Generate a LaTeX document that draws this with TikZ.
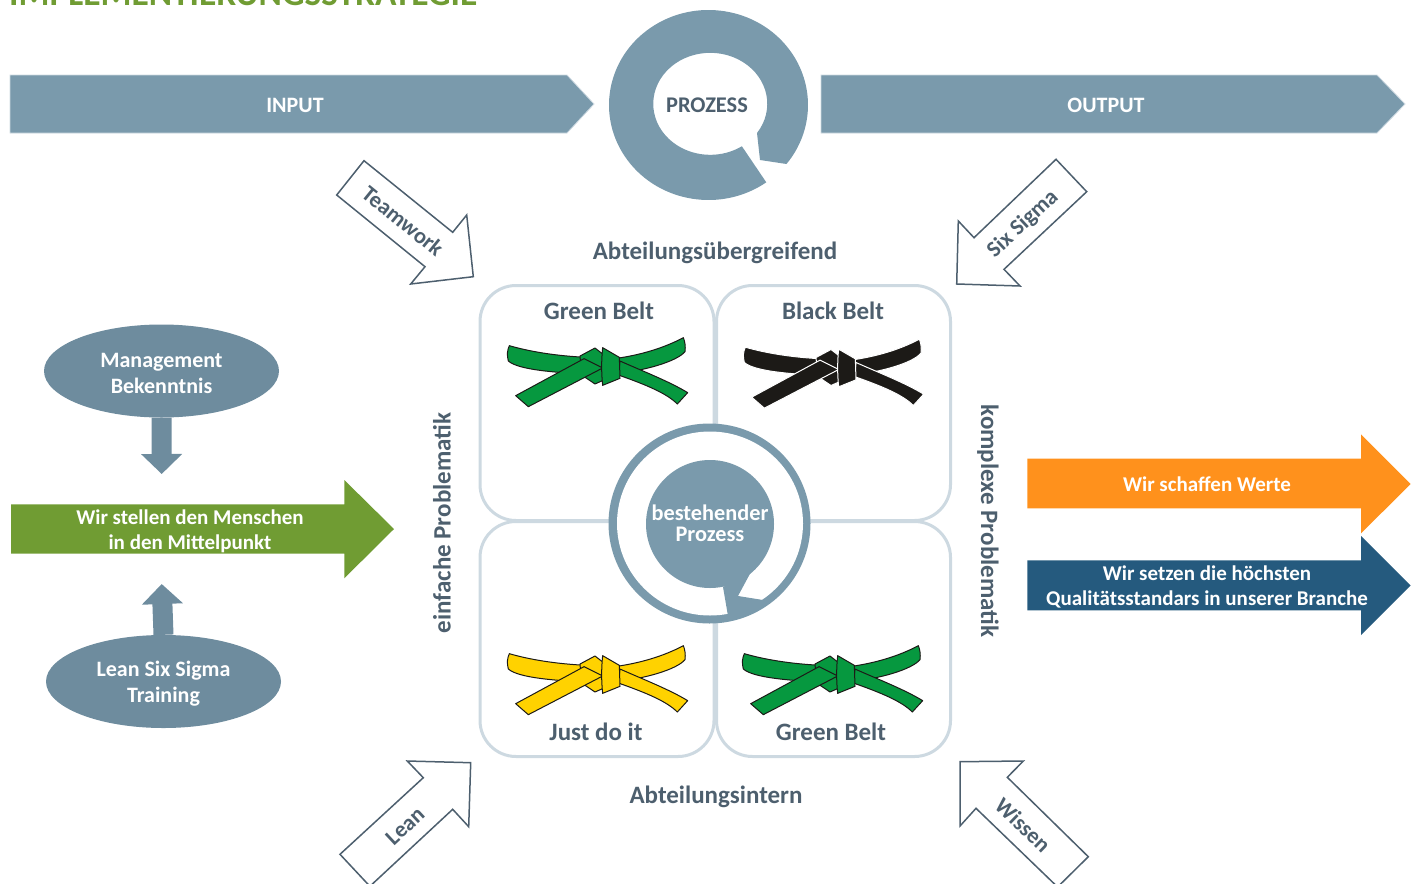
\documentclass[tikz,border=0pt]{standalone}
\usepackage{fontspec}
\setmainfont{Carlito}
\usetikzlibrary{arrows.meta, shapes.geometric, positioning}
\definecolor{steel}{HTML}{7A9AAC}
\definecolor{steeld}{HTML}{6E8C9E}
\definecolor{quadline}{HTML}{CDD9E1}
\definecolor{slate}{HTML}{4D5F6E}
\definecolor{leaf}{HTML}{709C33}
\definecolor{amber}{HTML}{FF911C}
\definecolor{navy}{HTML}{255A7E}
\definecolor{beltgreen}{HTML}{06983F}
\definecolor{beltyellow}{HTML}{FFD200}
\definecolor{beltblack}{HTML}{1C1A17}

\newcommand{\beltdraw}[4]{
    \begin{scope}[shift={(480+#1,280+#2)}, scale=1/3, fill=#3, draw=#4, line width=1pt, line join=round]
        \filldraw (88,197) .. controls (150,215) and (230,228) .. (320,232) -- (320,282) .. controls (230,278) and (115,270) .. (85,243) .. controls (80,225) and (82,210) .. cycle;
        \filldraw (610,173) .. controls (550,205) and (480,225) .. (410,235) -- (410,280) .. controls (490,273) and (590,245) .. (615,215) .. controls (617,200) and (615,185) .. cycle;
        \filldraw (420,243) .. controls (480,270) and (570,305) .. (623,338) -- (592,372) .. controls (560,340) and (500,315) .. (415,285) -- cycle;
        \filldraw (300,228) -- (345,204) -- (372,225) -- (372,300) -- (345,312) -- (305,285) -- cycle;
        \filldraw (107,347) -- (312,236) -- (368,264) -- (145,380) -- cycle;
        \filldraw (368,203) -- (418,232) -- (420,295) -- (368,316) .. controls (364,280) and (364,240) .. cycle;
    \end{scope}
}

\begin{document}
\begin{tikzpicture}[x=1pt, y=1pt, yscale=-1,
        lab/.style={font=\fontsize{25}{26}\selectfont\bfseries, text=slate, inner sep=0, align=center},
        wlab/.style={font=\fontsize{21}{25}\selectfont\bfseries, text=white, inner sep=0, align=center},
        hollow/.style={draw=slate, line width=1.5pt, fill=white, line join=miter},
        hlab/.style={font=\fontsize{22.5}{25}\selectfont\bfseries, text=slate, inner sep=0},
        band/.style={fill=steel, draw=quadline, line width=0.8pt},
        quad/.style={draw=quadline, line width=3pt, fill=white, rounded corners=36pt, minimum width=234pt, minimum height=235pt, inner sep=0},
        oval/.style={ellipse, fill=steeld, minimum width=235pt, minimum height=93pt, inner sep=0, align=center, font=\fontsize{22}{26}\selectfont\bfseries, text=white},
        blockarrow/.style={draw=steeld, line width=20pt, -{Triangle[length=20pt, width=40pt]}}]
    \clip (0,0) rectangle (1415,883);

    \node[anchor=base west, inner sep=0, text=leaf, font=\fontsize{35.4}{36}\selectfont\bfseries] (title) at (9,6) {IMPLEMENTIERUNGSSTRATEGIE};

    % top row
    \draw[band] (10,75) -- (567,75) -- (594,104) -- (567,133) -- (10,133) -- cycle;
    \draw[band] (821,75) -- (1377,75) -- (1405,104) -- (1377,133) -- (821,133) -- cycle;
    \node[wlab, font=\fontsize{22}{25}\selectfont\bfseries] (input) at (295,105.5) {INPUT};
    \node[wlab, font=\fontsize{22}{25}\selectfont\bfseries] (output) at (1106,105.5) {OUTPUT};
    \fill[steel] (708.5,105) ++(54.5:99.5 and 95) arc[start angle=54.5, end angle=398.4, x radius=99.5, y radius=95]
        -- (760,160) -- (757,133) arc[start angle=34.9, end angle=-303.7, x radius=57, y radius=51] -- cycle;
    \node[lab, font=\fontsize{22.4}{25}\selectfont\bfseries] (prozess) at (707,105.5) {PROZESS};

    % hollow arrows
    \draw[hollow] (364,160.7) -- (452.7,232.3) -- (466.7,215) -- (473.3,276.7) -- (410.7,284) -- (425,266.7) -- (336.7,195) -- cycle;
    \draw[hollow] (1056,159.3) -- (1086.7,191.7) -- (1004,269.3) -- (1020,286) -- (956.7,284) -- (958.3,221) -- (974,237.7) -- cycle;
    \draw[hollow] (340,854.3) -- (423.3,777.7) -- (407.3,761) -- (470.7,762.7) -- (468.7,826.7) -- (452.7,809.3) -- (369.9,886.3) -- cycle;
    \draw[hollow] (960,761.7) -- (1023.3,761) -- (1007.3,777.3) -- (1088.3,856.7) -- (1057.6,887) -- (976,808.3) -- (960,826) -- cycle;
    \node[hlab, rotate=-39] (teamwork) at (403,221) {Teamwork};
    \node[hlab, rotate=43] (sixsigma) at (1023,224) {Six Sigma};
    \node[hlab, rotate=43] (lean) at (405,826) {Lean};
    \node[hlab, rotate=-44] (wissen) at (1023,825) {Wissen};

    % quadrants
    \node[quad] (tl) at (597,403) {};
    \node[quad] (tr) at (833.5,403) {};
    \node[quad] (bl) at (597,639) {};
    \node[quad] (br) at (833.5,639) {};

    \beltdraw{0}{0}{beltgreen}{beltblack}
    \beltdraw{236}{1.5}{beltblack}{white}
    \beltdraw{0}{308}{beltyellow}{beltblack}
    \beltdraw{235}{308}{beltgreen}{beltblack}

    \foreach \n/\x/\y/\t in {gb1/599/311/Green Belt, bb/833/311/Black Belt, jd/596/732/Just do it, gb2/831/732/Green Belt,
        quer/715/252.5/Abteilungsübergreifend, intern/716/796.5/Abteilungsintern}
    \node[lab] (\n) at (\x,\y) {\t};

    \node[lab, rotate=90] (einfach) at (442,523) {einfache Problematik};
    \node[lab, rotate=-90] (komplex) at (988,521) {komplexe Problematik};

    % centre
    \fill[steel] (709.5,523.5) ellipse[x radius=101, y radius=100];
    \fill[white] (710,523.5) ellipse[x radius=93, y radius=92];
    \fill[steel] (710,524) circle[radius=64];
    \fill[steel] (723,587) -- (728,616) -- (765,606) -- (763,600) -- (738,596) -- (752,570) -- cycle;
    \node[wlab, font=\fontsize{22.3}{21}\selectfont\bfseries] (best) at (710,523.5) {bestehender\\Prozess};

    % left column
    \coordinate (downtip) at (161.7,474);
    \coordinate (uptip) at (161.7,584);
    \node[oval] (mgmt) at (161.5,371) {\rule{0pt}{19.5pt}Management\\Bekenntnis};
    \node[oval] (train) at (163.5,681.5) {\rule{0pt}{19.5pt}Lean Six Sigma\\Training};
    \draw[blockarrow] (mgmt.south) -- (downtip);
    \draw[blockarrow] (train.north) -- (uptip);
    \fill[leaf] (11,504.3) -- (344.3,504.3) -- (344.3,480) -- (394,529) -- (344.3,578.3) -- (344.3,553.7) -- (11,553.7) -- cycle;
    \node[wlab] (mensch) at (190,531) {Wir stellen den Menschen\\in den Mittelpunkt};

    % right column
    \fill[amber] (1027.3,458.7) -- (1361,458.7) -- (1361,434.3) -- (1410.7,484) -- (1361,533.3) -- (1361,508.3) -- (1027.3,508.3) -- cycle;
    \fill[navy] (1027.3,560.3) -- (1361,560.3) -- (1361,536) -- (1410.7,585.5) -- (1361,635) -- (1361,610.3) -- (1027.3,610.3) -- cycle;
    \node[wlab] (werte) at (1207,484.5) {Wir schaffen Werte};
    \node[wlab] (quali) at (1207,586.5) {Wir setzen die höchsten\\Qualitätsstandars in unserer Branche};
\end{tikzpicture}
\end{document}
